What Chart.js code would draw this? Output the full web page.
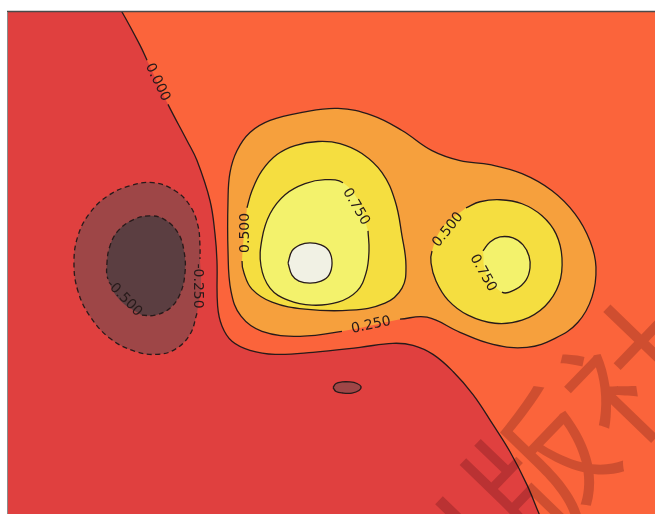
<!DOCTYPE html>
<html>
<head>
<meta charset="utf-8">
<title>contour</title>
<script src="https://cdn.jsdelivr.net/npm/chart.js@4.4.1/dist/chart.umd.min.js"></script>
<style>
  html, body { margin: 0; padding: 0; background: #fff; overflow: hidden; }
  canvas { display: block; }
</style>
</head>
<body>
<canvas id="chart-contour" width="670" height="514"></canvas>
<script>
// contour levels, a colour band sits between each pair
var levels = [-0.5, -0.25, 0, 0.25, 0.5, 0.75, 1.0];
var bandColors = ['#5b3e41', '#9e4647', '#e0403f', '#fb643b', '#f6a03d', '#f5de40', '#f3f26c', '#f1f1e4'];

// traced contour lines as [x, y] pairs (x and y run from -3 to 3)
var zeroLine = [[-2.02, 3.10], [-1.967, 3.000], [-1.804, 2.604], [-1.740, 2.424], [-1.550, 1.896],
    [-1.378, 1.464], [-1.287, 1.224], [-1.169, 0.744], [-1.124, 0.348], [-1.106, 0.024],
    [-1.100, -0.516], [-1.060, -0.756], [-0.970, -0.936], [-0.807, -1.044], [-0.580, -1.092],
    [-0.236, -1.068], [0.190, -1.008], [0.489, -0.960], [0.671, -0.984], [0.852, -1.092],
    [1.033, -1.296], [1.215, -1.572], [1.396, -1.932], [1.550, -2.256], [1.704, -2.652],
    [1.822, -3.024], [1.931, -3.336]];
// closes the z > 0 side of the zero line past the axes
var zeroRegionEdge = [[2.3, -3.6], [3.6, -3.6], [3.6, 3.6], [-2.1, 3.6]];

var line025 = [[0.553, -0.672], [0.798, -0.648], [1.097, -0.828], [1.396, -0.972], [1.704, -1.008],
    [1.958, -0.900], [2.166, -0.708], [2.293, -0.408], [2.329, -0.048], [2.275, 0.264],
    [2.139, 0.588], [1.931, 0.864], [1.659, 1.068], [1.369, 1.176], [1.097, 1.224],
    [0.843, 1.344], [0.571, 1.584], [0.299, 1.764], [-0.009, 1.848], [-0.335, 1.800],
    [-0.625, 1.704], [-0.807, 1.560], [-0.924, 1.344], [-0.988, 1.080], [-1.006, 0.744],
    [-1.006, 0.144], [-0.979, -0.336], [-0.888, -0.636], [-0.698, -0.816], [-0.353, -0.876],
    [0.027, -0.816], [0.553, -0.672]];

var line050a = [[-0.834, 0.660], [-0.789, 0.864], [-0.698, 1.104], [-0.562, 1.296], [-0.399, 1.404],
    [-0.190, 1.452], [0.009, 1.428], [0.208, 1.308], [0.390, 1.080], [0.508, 0.744],
    [0.571, 0.324], [0.607, -0.036], [0.571, -0.300], [0.417, -0.480], [0.100, -0.564],
    [-0.308, -0.552], [-0.607, -0.468], [-0.789, -0.312], [-0.861, -0.120], [-0.879, 0.024],
    [-0.834, 0.660]];

var line050b = [[1.151, 0.660], [1.278, 0.732], [1.459, 0.756], [1.659, 0.708], [1.840, 0.564],
    [1.967, 0.348], [2.021, 0.060], [1.994, -0.252], [1.867, -0.516], [1.659, -0.684],
    [1.414, -0.720], [1.169, -0.624], [0.988, -0.444], [0.879, -0.216], [0.834, 0.000],
    [0.843, 0.144], [0.943, 0.432], [1.151, 0.660]];

var line075a = [[0.263, 0.384], [0.272, 0.144], [0.245, -0.120], [0.163, -0.336], [-0.009, -0.468],
    [-0.245, -0.504], [-0.462, -0.444], [-0.625, -0.300], [-0.707, -0.036], [-0.698, 0.288],
    [-0.625, 0.588], [-0.489, 0.816], [-0.308, 0.948], [-0.127, 0.996], [0.036, 0.960],
    [0.181, 0.732], [0.263, 0.384]];

var line075b = [[1.305, 0.144], [1.369, 0.252], [1.459, 0.312], [1.577, 0.300], [1.668, 0.216],
    [1.722, 0.084], [1.731, -0.060], [1.695, -0.204], [1.604, -0.312], [1.477, -0.348],
    [1.332, -0.120], [1.305, 0.144]];

var line100 = [[-0.462, 0.000], [-0.426, 0.144], [-0.353, 0.216], [-0.263, 0.240], [-0.163, 0.216],
    [-0.091, 0.144], [-0.063, 0.000], [-0.091, -0.144], [-0.163, -0.216], [-0.263, -0.240],
    [-0.363, -0.216], [-0.426, -0.144], [-0.462, 0.000]];

var lineM025a = [[-1.287, -0.600], [-1.350, -0.852], [-1.486, -1.032], [-1.650, -1.092], [-1.849, -1.056],
    [-2.076, -0.900], [-2.257, -0.636], [-2.366, -0.336], [-2.402, 0.000], [-2.366, 0.324],
    [-2.257, 0.600], [-2.094, 0.804], [-1.894, 0.924], [-1.686, 0.960], [-1.486, 0.864],
    [-1.350, 0.684], [-1.278, 0.444], [-1.260, 0.204], [-1.260, 0.048], [-1.251, -0.276],
    [-1.287, -0.600]];

var lineM025b = [[-0.054, -1.488], [-0.027, -1.440], [0.027, -1.422], [0.100, -1.422], [0.163, -1.440],
    [0.199, -1.476], [0.181, -1.524], [0.118, -1.554], [0.036, -1.554], [-0.027, -1.536],
    [-0.054, -1.488]];

var lineM050 = [[-1.786, -0.624], [-1.668, -0.624], [-1.532, -0.540], [-1.441, -0.372], [-1.396, -0.120],
    [-1.405, 0.144], [-1.459, 0.360], [-1.577, 0.516], [-1.713, 0.564], [-1.867, 0.516],
    [-2.003, 0.384], [-2.076, 0.204], [-2.103, 0.000], [-2.094, -0.192], [-1.985, -0.444],
    [-1.786, -0.624]];

// inline labels: text, position and rotation (degrees)
var labelText  = ['0.000', '0.250', '0.500', '0.500', '0.750', '0.750', '-0.250', '-0.500'];
var labelX     = [-1.645, 0.290, -0.852, 0.988, 0.154, 1.305, -1.278, -1.949];
var labelY     = [2.160, -0.744, 0.360, 0.396, 0.672, -0.120, -0.276, -0.420];
var labelAngle = [64, -12, -90, -51, 60, 61, 90, 46];

var contours = [
    {points: zeroLine,  level: 0,     label: 0},
    {points: line025,   level: 0.25,  label: 1},
    {points: line050a,  level: 0.5,   label: 2},
    {points: line050b,  level: 0.5,   label: 3},
    {points: line075a,  level: 0.75,  label: 4},
    {points: line075b,  level: 0.75,  label: 5},
    {points: line100,   level: 1.0,   label: null},
    {points: lineM025a, level: -0.25, label: 6},
    {points: lineM025b, level: -0.25, label: null},
    {points: lineM050,  level: -0.5,  label: 7}
];

var lineColor = '#271a1a';

var toXY = function(p) {
    return {x: p[0], y: p[1]};
};

// band that fills the inside of a contour
function bandFor(level) {
    var k = levels.indexOf(level);
    return level < 0 ? bandColors[k] : bandColors[k + 1];
}

// true when a line segment runs under its inline label
function underLabel(ctx, li) {
    if (li === null || !ctx.chart) return false;
    var xs = ctx.chart.scales.x, ys = ctx.chart.scales.y;
    var lx = xs.getPixelForValue(labelX[li]);
    var ly = ys.getPixelForValue(labelY[li]);
    var mx = (ctx.p0.x + ctx.p1.x) / 2;
    var my = (ctx.p0.y + ctx.p1.y) / 2;
    return Math.hypot(mx - lx, my - ly) < 18;
}

var datasets = [];

// filled bands, lowest first
contours.forEach(function(c) {
    var pts = c.level === 0 ? c.points.concat(zeroRegionEdge) : c.points;
    datasets.push({
        data: pts.map(toXY),
        showLine: true,
        fill: 'shape',
        backgroundColor: bandFor(c.level),
        borderWidth: 0,
        pointRadius: 0
    });
});

// contour lines on top, negative levels dashed
contours.forEach(function(c) {
    datasets.push({
        data: c.points.map(toXY),
        showLine: true,
        fill: false,
        borderColor: lineColor,
        borderWidth: 1.3,
        borderDash: (c.level < 0 && c.points !== lineM025b) ? [5, 3.5] : [],
        pointRadius: 0,
        segment: {
            borderColor: function(ctx) {
                return underLabel(ctx, c.label) ? 'rgba(0,0,0,0)' : undefined;
            }
        }
    });
});

// first pushed gets drawn first
datasets.forEach(function(d, i) {
    d.order = datasets.length - i;
});

var contourPlugin = {
    id: 'contourPlugin',
    beforeDraw: function(chart) {
        var a = chart.chartArea, ctx = chart.ctx;
        ctx.save();
        ctx.fillStyle = bandColors[2];
        ctx.fillRect(a.left, a.top, a.right - a.left, a.bottom - a.top);
        ctx.restore();
    },
    afterDatasetsDraw: function(chart) {
        var ctx = chart.ctx;
        ctx.save();
        ctx.font = '14px "DejaVu Sans"';
        ctx.fillStyle = lineColor;
        ctx.textAlign = 'center';
        ctx.textBaseline = 'middle';
        for (var i = 0; i < labelText.length; i++) {
            var px = chart.scales.x.getPixelForValue(labelX[i]);
            var py = chart.scales.y.getPixelForValue(labelY[i]);
            ctx.save();
            ctx.translate(px, py);
            ctx.rotate(labelAngle[i] * Math.PI / 180);
            ctx.fillText(labelText[i], 0, 0);
            ctx.restore();
        }
        ctx.restore();
    },
    afterDraw: function(chart) {
        var a = chart.chartArea, ctx = chart.ctx;
        ctx.save();
        // axes frame
        ctx.strokeStyle = '#4a4a4a';
        ctx.lineWidth = 1.5;
        ctx.beginPath();
        ctx.moveTo(a.left - 1, a.top - 0.5);
        ctx.lineTo(a.right, a.top - 0.5);
        ctx.stroke();
        ctx.strokeStyle = '#8c8c8c';
        ctx.lineWidth = 1;
        ctx.beginPath();
        ctx.moveTo(a.left - 0.5, a.top);
        ctx.lineTo(a.left - 0.5, a.bottom);
        ctx.stroke();
        // publisher stamp
        ctx.translate(540, 468);
        ctx.rotate(-46 * Math.PI / 180);
        ctx.font = '136px "Noto Sans CJK SC"';
        ctx.fillStyle = 'rgba(50, 0, 10, 0.22)';
        ctx.textAlign = 'center';
        ctx.textBaseline = 'middle';
        ctx.fillText('出版社', 0, 0);
        ctx.restore();
    }
};

var chartContour = new Chart(document.getElementById('chart-contour'), {
    type: 'scatter',
    data: {datasets: datasets},
    options: {
        responsive: false,
        animation: false,
        devicePixelRatio: 1,
        events: [],
        layout: {padding: {left: 8, top: 12, right: 0, bottom: 0}},
        plugins: {legend: {display: false}, tooltip: {enabled: false}},
        elements: {line: {tension: 0.4, capBezierPoints: false}},
        scales: {
            x: {type: 'linear', min: -3, max: 3, display: false},
            y: {type: 'linear', min: -3, max: 3, display: false}
        }
    },
    plugins: [contourPlugin]
});
</script>
</body>
</html>
